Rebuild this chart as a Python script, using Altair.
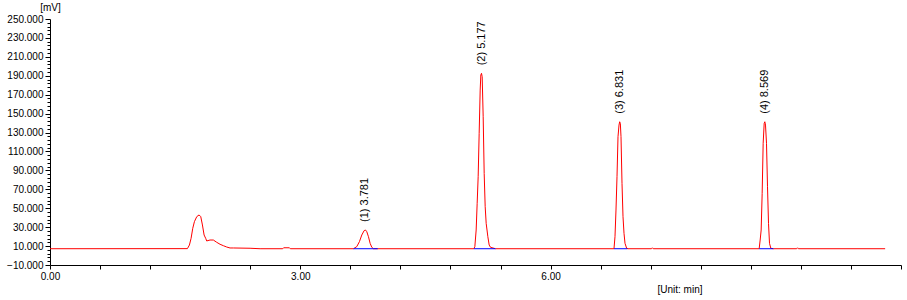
import altair as alt
import pandas as pd

# ---- data ----
trace_time = [
    0.00, 1.647, 1.671, 1.691, 1.711, 1.731, 1.759, 1.787, 1.807, 1.827, 1.847,
    1.866, 1.878, 1.918, 1.958, 1.998, 2.038, 2.078, 2.118, 2.158, 2.198, 2.398,
    2.518, 2.79, 2.80, 2.87, 2.88,
    3.637, 3.677, 3.709, 3.737, 3.765, 3.781, 3.797, 3.817, 3.837, 3.857, 3.877,
    3.929,
    5.080, 5.092, 5.108, 5.120, 5.132, 5.144, 5.156, 5.164, 5.172, 5.180, 5.192,
    5.204, 5.216, 5.228, 5.248, 5.264, 5.280, 5.340,
    6.760, 6.772, 6.784, 6.796, 6.808, 6.820, 6.828, 6.836, 6.844, 6.856, 6.868,
    6.880, 6.892, 6.912, 6.928,
    7.21, 7.22, 7.23,
    8.500, 8.512, 8.524, 8.536, 8.548, 8.560, 8.568, 8.576, 8.588, 8.600, 8.612,
    8.624, 8.640, 8.672,
    8.95, 8.96, 8.97,
    10.01,
]
trace_mv = [
    7.2, 7.3, 11.1, 18.2, 28.8, 35.8, 41.1, 42.9, 41.1, 32.3, 21.7,
    18.2, 15.4, 16.4, 16.4, 14.0, 11.9, 10.4, 9.0, 8.0, 8.0, 7.7,
    7.2, 7.2, 8.2, 8.2, 7.2,
    7.2, 9.4, 14.7, 21.7, 26.3, 27.0, 25.2, 19.9, 12.9, 8.7, 7.2,
    7.2,
    7.2, 9.3, 27.0, 55.2, 83.3, 129.2, 174.9, 190.8, 192.6, 189.0, 146.7,
    86.8, 51.6, 34.0, 19.9, 11.1, 8.7, 7.2,
    7.2, 19.9, 48.1, 83.3, 125.6, 137.9, 141.4, 139.7, 125.6, 76.3, 41.0,
    23.5, 12.9, 7.6, 7.2,
    7.2, 8.2, 7.2,
    7.2, 16.4, 27.0, 65.7, 118.6, 139.7, 141.4, 137.9, 118.6, 72.7, 34.0,
    12.9, 7.6, 7.2,
    7.2, 8.2, 7.2,
    7.2,
]

peak_time = [3.781, 5.177, 6.831, 8.569]
peak_apex_time = [3.781, 5.172, 6.828, 8.568]
peak_height = [27.0, 192.6, 141.4, 141.4]
peak_label = ["(1) 3.781", "(2) 5.177", "(3) 6.831", "(4) 8.569"]

base_start = [3.637, 5.080, 6.760, 8.500]
base_end = [3.929, 5.340, 6.920, 8.672]
base_level = [7.2, 7.2, 7.2, 7.2]

x_ticks = [0.0, 0.6, 1.2, 1.8, 2.4, 3.0, 3.6, 4.2, 4.8, 5.4, 6.0, 6.6, 7.2,
           7.8, 8.4, 9.0, 9.6, 10.2]
x_labelled = [0.0, 3.0, 6.0]
y_major = [-10, 10, 30, 50, 70, 90, 110, 130, 150, 170, 190, 210, 230, 250]
y_minor = [v for v in range(-10, 251, 4) if v not in y_major]

FONT = "Liberation Sans"

trace = pd.DataFrame({"t": trace_time, "mv": trace_mv})
peaks = pd.DataFrame({"t": peak_apex_time, "h": peak_height, "label": peak_label})
bases = pd.DataFrame({"t1": base_start, "t2": base_end, "y": base_level})

x_scale = alt.Scale(domain=[0, 10.2], nice=False, zero=False)
y_scale = alt.Scale(domain=[-10, 250], nice=False, zero=False)

x_label_test = " || ".join(f"abs(datum.value - {v}) < 0.001" for v in x_labelled)

x_axis = alt.Axis(
    values=x_ticks,
    labelExpr=f"({x_label_test}) ? format(datum.value, '.2f') : ''",
    tickSize=4, labelPadding=2, labelFlush=False, labelOverlap=False,
    grid=False, domainColor="black", tickColor="black",
    labelColor="black", labelFont=FONT, labelFontSize=10,
    title="[Unit: min]", titleFont=FONT, titleFontSize=10,
    titleFontWeight="normal", titleColor="black",
    titleAnchor="start", titleAlign="left", titleBaseline="middle",
    titleX=607, titleY=24,
)
y_axis_major = alt.Axis(
    orient="left",
    values=y_major, format=".3f",
    tickSize=5, labelPadding=2, labelFlush=False, labelOverlap=False,
    grid=False, domainColor="black", tickColor="black",
    labelColor="black", labelFont=FONT, labelFontSize=10,
    title="[mV]", titleFont=FONT, titleFontSize=10, titleFontWeight="normal",
    titleColor="black", titleAngle=0, titleAlign="center",
    titleBaseline="middle", titleX=0, titleY=-12,
)
y_axis_minor = alt.Axis(
    orient="left", values=y_minor, tickSize=3, labels=False, domain=False,
    grid=False, tickColor="black", title=None,
)

line = alt.Chart(trace).mark_line(color="#FF0000", strokeWidth=1).encode(
    x=alt.X("t:Q", scale=x_scale, axis=x_axis),
    y=alt.Y("mv:Q", scale=y_scale, axis=y_axis_major),
)

minor = alt.Chart(trace).mark_line(opacity=0).encode(
    x=alt.X("t:Q", scale=x_scale),
    y=alt.Y("mv:Q", scale=y_scale, axis=y_axis_minor),
)

baseline = alt.Chart(bases).mark_rule(color="#0000FF", strokeWidth=1).encode(
    x=alt.X("t1:Q", scale=x_scale),
    x2="t2:Q",
    y=alt.Y("y:Q", scale=y_scale, axis=None),
)

labels = alt.Chart(peaks).mark_text(
    angle=270, align="left", baseline="middle", dx=8,
    font=FONT, fontSize=11, color="black",
).encode(
    x=alt.X("t:Q", scale=x_scale),
    y=alt.Y("h:Q", scale=y_scale, axis=None),
    text="label:N",
)

chart = alt.layer(line, minor, baseline, labels).resolve_scale(
    y="shared"
).resolve_axis(y="independent").properties(
    width=851, height=246,
    padding={"left": 50, "top": 19, "right": 6, "bottom": 35},
    autosize=alt.AutoSizeParams(type="none"),
    background="white",
).configure_view(strokeWidth=0)

chart.save("out.html", embed_options={"renderer": "svg", "actions": False})
